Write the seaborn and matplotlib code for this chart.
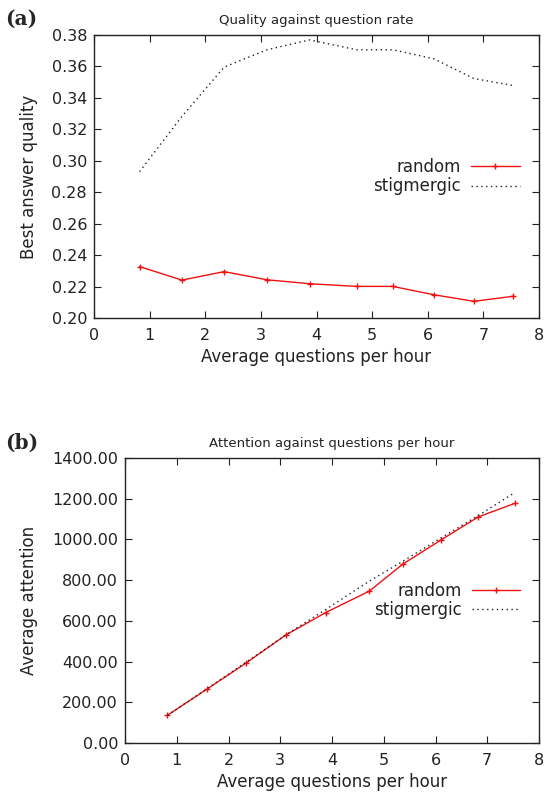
import numpy as np
import pandas as pd
import matplotlib
matplotlib.use("Agg")
import matplotlib.pyplot as plt
import seaborn as sns
from matplotlib.ticker import FormatStrFormatter

# ---- data ----
rate = [0.82, 1.58, 2.34, 3.11, 3.88, 4.72, 5.37, 6.11, 6.83, 7.53]
quality_random = [0.2327, 0.2241, 0.2295, 0.2243, 0.2218, 0.2201, 0.2201, 0.2148, 0.2106, 0.2138]
quality_stig = [0.2931, 0.3282, 0.3596, 0.3706, 0.3769, 0.3706, 0.3706, 0.3649, 0.3523, 0.3479]
attention_random = [136, 264, 393, 531, 641, 746, 879, 998, 1111, 1177]
attention_stig = [136, 266, 397, 531, 656, 795, 893, 1008, 1118, 1230]
series = ["random", "stigmergic"]

sns.set_style("ticks")
plt.rcParams['font.family'] = ['DejaVu Sans']

fig = plt.figure(figsize=(5.53, 7.96), dpi=100)
ax1 = fig.add_axes([94/553, 1-318/796, 445/553, 283/796])
ax2 = fig.add_axes([125/553, 1-743/796, 414/553, 285/796])

palette = {"random": "#f01010", "stigmergic": "#222222"}
TXT = "#222222"

def draw(ax, yr, ys):
    df = pd.DataFrame({
        "x": rate + rate,
        "y": list(yr) + list(ys),
        "series": [series[0]] * len(rate) + [series[1]] * len(rate),
    })
    sns.lineplot(data=df[df.series == "random"], x="x", y="y", ax=ax,
                 color=palette["random"], lw=1.0, marker="+", markersize=5,
                 markeredgewidth=1.0, markeredgecolor=palette["random"],
                 markerfacecolor=palette["random"], label="random")
    sns.lineplot(data=df[df.series == "stigmergic"], x="x", y="y", ax=ax,
                 color=palette["stigmergic"], lw=1.0, linestyle=(0, (1, 2.5)),
                 label="stigmergic")
    ax.set_xlim(0, 8)
    ax.set_xticks(range(0, 9))
    ax.tick_params(direction="in", top=True, right=True, labelsize=11.5,
                   length=5, width=0.8, colors=TXT)
    ax.tick_params(axis="x", pad=7)
    ax.tick_params(axis="y", pad=5)
    for s in ax.spines.values():
        s.set_linewidth(1.0)
        s.set_color(TXT)
    ax.set_xlabel("Average questions per hour", fontsize=12, color=TXT, labelpad=4)
    leg = ax.legend(loc="center right", bbox_to_anchor=(0.975, 0.5), frameon=False,
                    markerfirst=False, fontsize=12, handlelength=2.9,
                    handletextpad=0.6, labelspacing=0.1, borderpad=0)
    for t in leg.get_texts():
        t.set_color(TXT)

draw(ax1, quality_random, quality_stig)
ax1.set_ylim(0.20, 0.38)
ax1.set_yticks(np.arange(0.20, 0.381, 0.02))
ax1.yaxis.set_major_formatter(FormatStrFormatter("%.2f"))
ax1.set_ylabel("Best answer quality", fontsize=12, color=TXT, labelpad=10)
ax1.set_title("Quality against question rate", fontsize=9.5, color=TXT, pad=8)

draw(ax2, attention_random, attention_stig)
ax2.set_ylim(0, 1400)
ax2.set_yticks(np.arange(0, 1401, 200))
ax2.yaxis.set_major_formatter(FormatStrFormatter("%.2f"))
ax2.set_ylabel("Average attention", fontsize=12, color=TXT, labelpad=10)
ax2.set_title("Attention against questions per hour", fontsize=9.5, color=TXT, pad=8)

fig.text(5/553, 1-19/796, "(a)", fontsize=14.5, fontweight="bold",
         family="DejaVu Serif", va="center", ha="left")
fig.text(5/553, 1-443/796, "(b)", fontsize=14.5, fontweight="bold",
         family="DejaVu Serif", va="center", ha="left")

fig.savefig("out.png", dpi=100)
